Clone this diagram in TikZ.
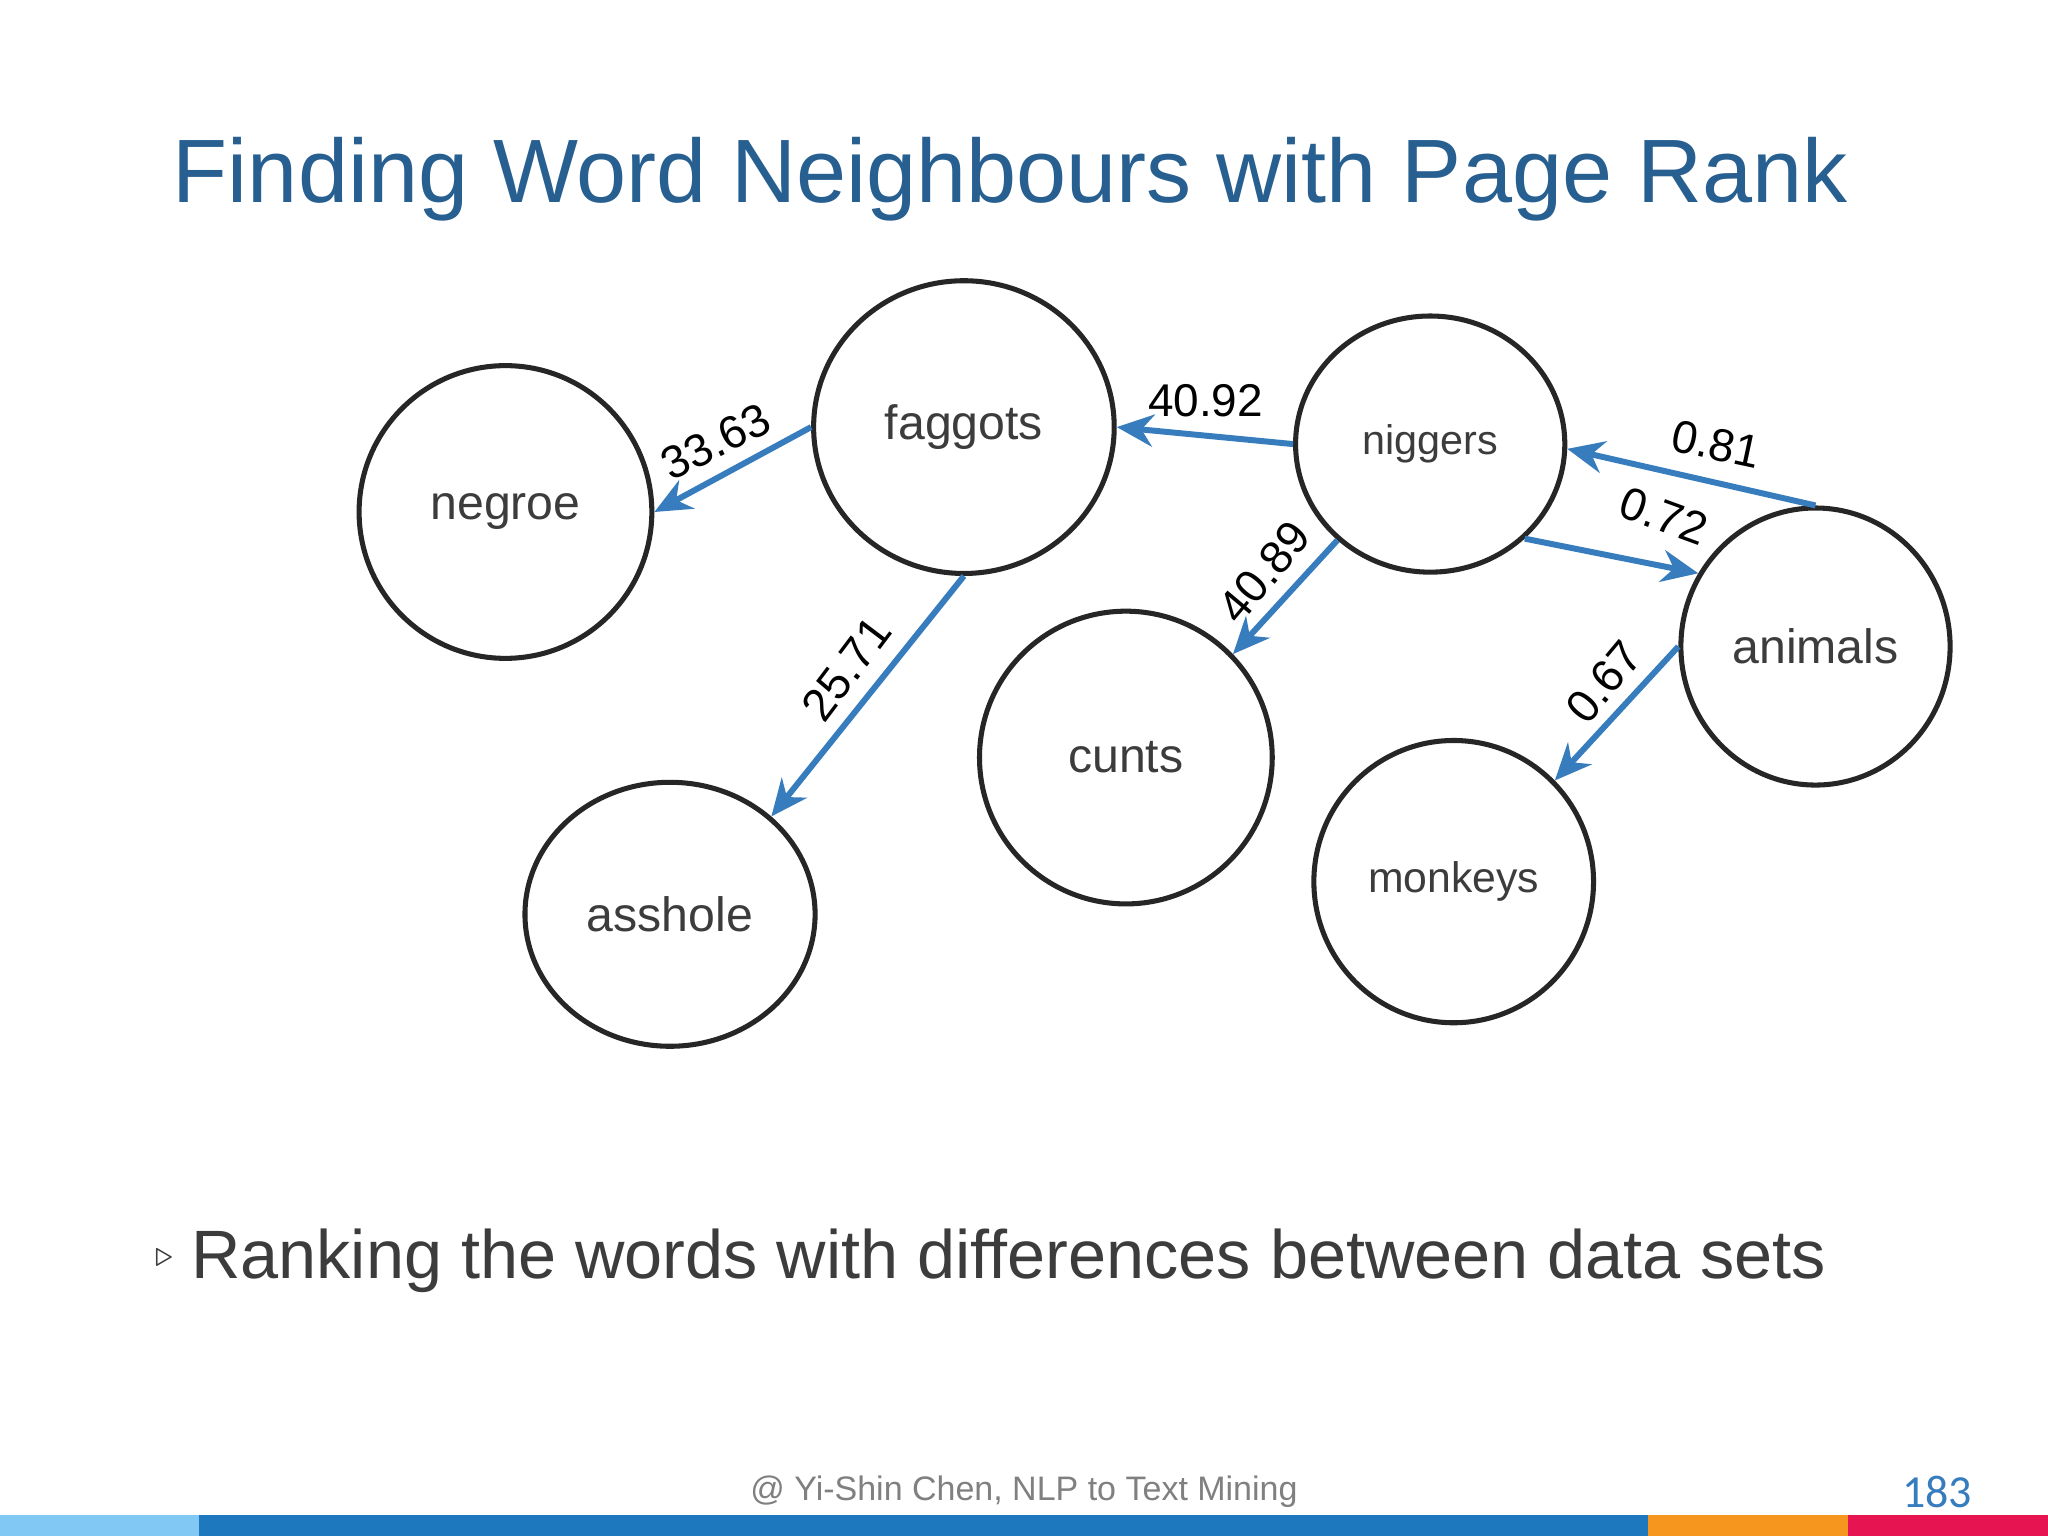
\documentclass[tikz,border=0pt]{standalone}
\usepackage{fontspec}
\setmainfont{Liberation Sans}
\newfontfamily\numfont{Carlito}
\usetikzlibrary{shapes.geometric,arrows.meta}
\definecolor{titleblue}{RGB}{40,95,145}
\definecolor{arrowblue}{RGB}{55,125,190}
\definecolor{txtgray}{RGB}{60,60,60}
\tikzset{
 wnode/.style={draw=black!85,line width=1.1pt,ellipse,inner sep=0pt,text=txtgray,font=\fontsize{10.5}{12}\selectfont},
 edge/.style={draw=arrowblue,line width=1.3pt,-{Stealth[length=8pt,width=7pt]}},
 lbl/.style={font=\fontsize{10}{12}\selectfont,text=black}
}
\begin{document}
\begin{tikzpicture}[x=0.01cm,y=-0.01cm]
\useasboundingbox (0,0) rectangle (1568,1176);
\fill[white] (0,0) rectangle (1568,1176);
\node[anchor=west,text=titleblue,font=\fontsize{19.6}{24}\selectfont] (title) at (120,137) {Finding Word Neighbours with Page Rank};

\node[wnode,minimum width=2.24cm,minimum height=2.24cm] (negroe) at (387,392) {negroe};
\node[wnode,minimum width=2.30cm,minimum height=2.24cm] (faggots) at (738,327) {faggots};
\node[wnode,minimum width=2.06cm,minimum height=1.96cm,font=\fontsize{9}{11}\selectfont] (niggers) at (1095,340) {niggers};
\node[wnode,minimum width=2.24cm,minimum height=2.24cm] (cunts) at (862,580) {cunts};
\node[wnode,minimum width=2.22cm,minimum height=2.02cm] (asshole) at (513,700) {asshole};
\node[wnode,minimum width=2.14cm,minimum height=2.16cm,font=\fontsize{9.3}{11}\selectfont] (monkeys) at (1113,675) {monkeys};
\node[wnode,minimum width=2.06cm,minimum height=2.12cm] (animals) at (1390,495) {animals};

\draw[edge] (faggots.180) -- (negroe.0);
\draw[edge] (faggots.270) -- (asshole.44);
\draw[edge] (niggers.180) -- (faggots.0);
\draw[edge] (niggers.226) -- (cunts.44);
\draw[edge] (niggers.315) -- (animals.148);
\draw[edge] (animals.90) -- (niggers.358);
\draw[edge] (animals.180) -- (monkeys.45);

\node[lbl,rotate=27] (l1) at (548,338) {33.63};
\node[lbl,rotate=53] (l2) at (648,512) {25.71};
\node[lbl] (l3) at (923,307) {40.92};
\node[lbl,rotate=50] (l4) at (968,438) {40.89};
\node[lbl,rotate=-20] (l5) at (1274,395) {0.72};
\node[lbl,rotate=-12] (l6) at (1314,340) {0.81};
\node[lbl,rotate=50] (l7) at (1228,522) {0.67};

\node[anchor=west,text=txtgray,font=\fontsize{7}{8}\selectfont] (bul) at (106,963) {$\triangleright$};
\node[anchor=west,text=txtgray,font=\fontsize{14.9}{17}\selectfont] (bullet) at (134,965) {Ranking the words with differences between data sets};

\node[text=black!50,font=\fontsize{7.4}{9}\selectfont] (foot) at (784,1142) {@ Yi-Shin Chen, NLP to Text Mining};
\node[text=arrowblue,font=\numfont\fontsize{10}{12}\selectfont] (page) at (1483,1142) {183};

\fill[fill={rgb,255:red,130;green,200;blue,245}] (0,1160) rectangle (152,1176);
\fill[fill={rgb,255:red,30;green,120;blue,190}] (152,1160) rectangle (1262,1176);
\fill[fill={rgb,255:red,247;green,150;blue,30}] (1262,1160) rectangle (1415,1176);
\fill[fill={rgb,255:red,230;green,20;blue,80}] (1415,1160) rectangle (1568,1176);
\end{tikzpicture}
\end{document}
